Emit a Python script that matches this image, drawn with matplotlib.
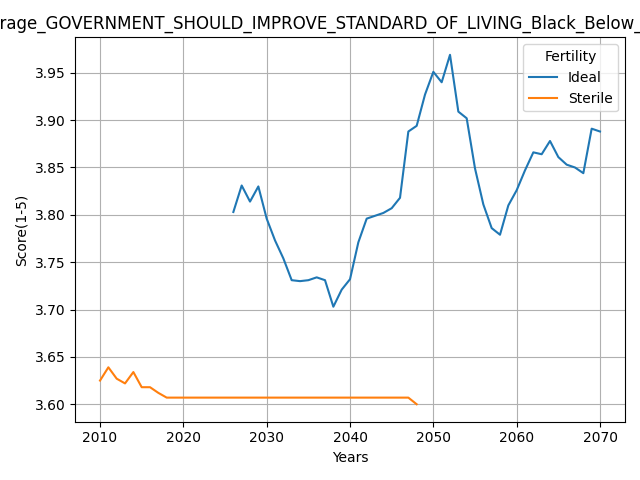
import matplotlib
matplotlib.use('Agg')
import matplotlib.pyplot as plt

# Ideal fertility series
ideal_years = list(range(2026, 2071))
ideal_scores = [3.803, 3.831, 3.814, 3.830, 3.796, 3.773, 3.754, 3.731, 3.730, 3.731,
                3.734, 3.731, 3.703, 3.721, 3.732, 3.771, 3.796, 3.799, 3.802, 3.807,
                3.818, 3.888, 3.894, 3.927, 3.951, 3.940, 3.969, 3.909, 3.902, 3.849,
                3.811, 3.786, 3.779, 3.810, 3.826, 3.847, 3.866, 3.864, 3.878, 3.861,
                3.853, 3.850, 3.844, 3.891, 3.888]

# Sterile fertility series
sterile_years = list(range(2010, 2049))
sterile_scores = [3.625, 3.639, 3.627, 3.622, 3.634, 3.618, 3.618, 3.612] + \
                 [3.607] * 30 + [3.600]

title = 'Average_GOVERNMENT_SHOULD_IMPROVE_STANDARD_OF_LIVING_Black_Below_Average'

fig, ax = plt.subplots(figsize=(6.4, 4.8), dpi=100)
ax.plot(ideal_years, ideal_scores, label='Ideal')
ax.plot(sterile_years, sterile_scores, label='Sterile')
ax.set_xlabel('Years')
ax.set_ylabel('Score(1-5)')
ax.set_title(title, x=0.484)
ax.grid(True)
ax.legend(title='Fertility')
fig.tight_layout()
fig.savefig('out.png')
